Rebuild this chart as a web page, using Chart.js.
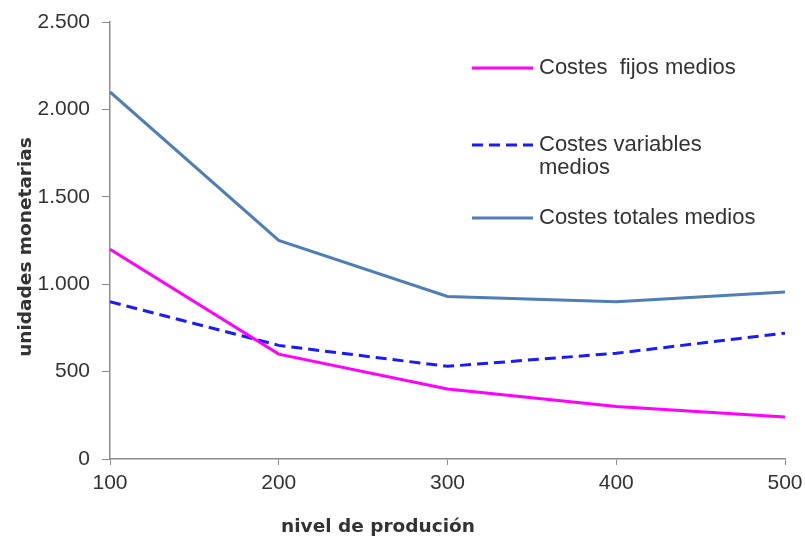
<!DOCTYPE html>
<html>
<head>
<meta charset="utf-8">
<script src="https://cdn.jsdelivr.net/npm/chart.js@4.4.1/dist/chart.umd.min.js"></script>
<style>
  html, body { margin: 0; padding: 0; background: #fff; }
  #wrap { width: 805px; height: 537px; }
</style>
</head>
<body>
<div id="wrap"><canvas id="grafico" width="805" height="537"></canvas></div>
<script>
// datos del gráfico
const niveles = [100, 200, 300, 400, 500];
const costesFijos = [1200, 600, 400, 300, 240];
const costesVariables = [900, 650, 530, 605, 720];
const costesTotales = [2100, 1250, 930, 900, 955];
const nombresSeries = [['Costes  fijos medios'], ['Costes variables', 'medios'], ['Costes totales medios']];
const ejeX = 'nivel de produción';
const ejeY = 'unidades monetarias';

const fuente = '"Liberation Sans", Arial, sans-serif';
const fuenteTitulo = '"DejaVu Sans", Verdana, sans-serif';
const gris = '#8c8c8c';
const texto = '#333';

function puntos(valores) {
    return niveles.map((n, i) => ({ x: n, y: valores[i] }));
}

// leyenda y títulos de ejes dibujados a mano
const leyendaPlugin = {
    id: 'leyendaManual',
    afterDraw(chart) {
        const ctx = chart.ctx;
        const ds = chart.data.datasets;
        const filas = [68, 145, 218];
        ctx.save();
        ctx.font = '22px ' + fuente;
        ctx.fillStyle = texto;
        ctx.textBaseline = 'middle';
        ds.forEach((d, i) => {
            const y = filas[i];
            ctx.strokeStyle = d.borderColor;
            ctx.lineWidth = 3;
            ctx.setLineDash(d.borderDash || []);
            ctx.beginPath();
            ctx.moveTo(472, y);
            ctx.lineTo(533, y);
            ctx.stroke();
            nombresSeries[i].forEach((t, k) => {
                ctx.fillText(t, 539, y + k * 23);
            });
        });
        ctx.setLineDash([]);

        ctx.font = 'bold 18.5px ' + fuenteTitulo;
        ctx.textAlign = 'center';
        ctx.fillText(ejeX, 378, 527);

        ctx.translate(26, 247);
        ctx.rotate(-Math.PI / 2);
        ctx.fillText(ejeY, 0, 0);
        ctx.restore();
    }
};

new Chart(document.getElementById('grafico'), {
    type: 'line',
    data: {
        datasets: [
            {
                label: 'fijos',
                data: puntos(costesFijos),
                borderColor: '#ff00ff',
                borderWidth: 3,
                pointRadius: 0,
                tension: 0
            },
            {
                label: 'variables',
                data: puntos(costesVariables),
                borderColor: '#1a1aff',
                borderWidth: 3,
                borderDash: [11, 6],
                pointRadius: 0,
                tension: 0
            },
            {
                label: 'totales',
                data: puntos(costesTotales),
                borderColor: '#4f7db5',
                borderWidth: 3,
                pointRadius: 0,
                tension: 0
            }
        ]
    },
    options: {
        responsive: false,
        animation: false,
        layout: { padding: { top: 22, right: 20, left: 0, bottom: 0 } },
        plugins: {
            legend: { display: false },
            tooltip: { enabled: false }
        },
        scales: {
            x: {
                type: 'linear',
                min: 100,
                max: 500,
                ticks: {
                    stepSize: 100,
                    color: texto,
                    font: { family: fuente, size: 21 },
                    padding: 6
                },
                grid: { drawOnChartArea: false, color: gris, tickLength: 6 },
                border: { color: gris, width: 1.5 },
                afterFit(s) {
                    s.height = 78;
                    s.paddingLeft = 0;
                    s.paddingRight = 0;
                }
            },
            y: {
                min: 0,
                max: 2500,
                ticks: {
                    stepSize: 500,
                    color: texto,
                    font: { family: fuente, size: 21 },
                    padding: 12,
                    callback: v => v.toLocaleString('de-DE')
                },
                grid: { drawOnChartArea: false, color: gris, tickLength: 8 },
                border: { color: gris, width: 1.5 },
                afterFit(s) {
                    s.width = 110;
                    s.paddingTop = 0;
                    s.paddingBottom = 0;
                }
            }
        }
    },
    plugins: [leyendaPlugin]
});
</script>
</body>
</html>
